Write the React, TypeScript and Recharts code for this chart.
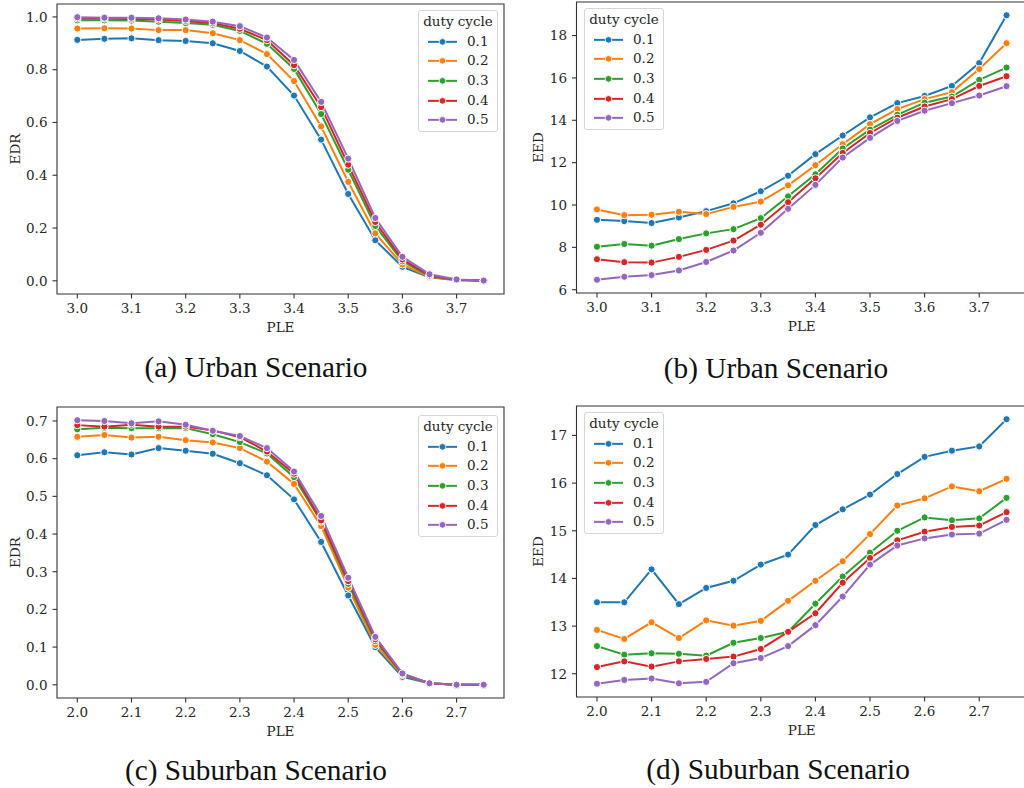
import React from "react";
import { LineChart, Line, XAxis, YAxis, ReferenceArea, Legend } from "recharts";

// PLE sweeps for the two scenarios
const pleUrban = [3.0, 3.05, 3.1, 3.15, 3.2, 3.25, 3.3, 3.35, 3.4, 3.45, 3.5, 3.55, 3.6, 3.65, 3.7, 3.75];
const pleSuburban = [2.0, 2.05, 2.1, 2.15, 2.2, 2.25, 2.3, 2.35, 2.4, 2.45, 2.5, 2.55, 2.6, 2.65, 2.7, 2.75];

const dutyCycles = ["0.1", "0.2", "0.3", "0.4", "0.5"];
const colors = ["#1f77b4", "#ff7f0e", "#2ca02c", "#d62728", "#9467bd"];

// one row per duty cycle (0.1 .. 0.5)
const edrUrban = [
  [0.913, 0.917, 0.919, 0.912, 0.909, 0.9, 0.871, 0.812, 0.702, 0.535, 0.329, 0.154, 0.053, 0.013, 0.002, 0.0],
  [0.956, 0.957, 0.956, 0.95, 0.95, 0.938, 0.912, 0.859, 0.757, 0.585, 0.375, 0.18, 0.062, 0.015, 0.003, 0.0],
  [0.987, 0.987, 0.986, 0.982, 0.977, 0.97, 0.947, 0.898, 0.803, 0.632, 0.421, 0.208, 0.074, 0.018, 0.004, 0.001],
  [0.994, 0.994, 0.992, 0.99, 0.985, 0.976, 0.955, 0.912, 0.817, 0.658, 0.44, 0.223, 0.081, 0.02, 0.004, 0.001],
  [0.999, 0.997, 0.997, 0.995, 0.99, 0.982, 0.965, 0.922, 0.837, 0.678, 0.463, 0.238, 0.091, 0.025, 0.005, 0.001],
];

const eedUrban = [
  [9.3, 9.24, 9.15, 9.41, 9.71, 10.08, 10.65, 11.38, 12.4, 13.28, 14.14, 14.81, 15.15, 15.62, 16.7, 18.96],
  [9.79, 9.52, 9.54, 9.68, 9.57, 9.91, 10.16, 10.93, 11.88, 12.87, 13.82, 14.53, 15.0, 15.33, 16.42, 17.64],
  [8.03, 8.16, 8.08, 8.39, 8.66, 8.86, 9.38, 10.41, 11.45, 12.67, 13.56, 14.26, 14.83, 15.12, 15.91, 16.49],
  [7.44, 7.3, 7.28, 7.55, 7.88, 8.32, 9.07, 10.13, 11.26, 12.46, 13.4, 14.12, 14.65, 15.0, 15.62, 16.08],
  [6.47, 6.61, 6.69, 6.91, 7.31, 7.85, 8.69, 9.82, 10.95, 12.24, 13.17, 13.97, 14.45, 14.81, 15.17, 15.61],
];

const edrSuburban = [
  [0.609, 0.617, 0.611, 0.628, 0.621, 0.613, 0.588, 0.556, 0.492, 0.379, 0.237, 0.1, 0.021, 0.004, 0.0, 0.0],
  [0.658, 0.663, 0.656, 0.658, 0.649, 0.643, 0.628, 0.592, 0.533, 0.421, 0.258, 0.106, 0.026, 0.004, 0.0, 0.0],
  [0.678, 0.682, 0.681, 0.681, 0.681, 0.665, 0.644, 0.614, 0.551, 0.433, 0.268, 0.116, 0.028, 0.004, 0.0, 0.0],
  [0.689, 0.685, 0.69, 0.685, 0.685, 0.675, 0.657, 0.619, 0.56, 0.436, 0.275, 0.121, 0.029, 0.004, 0.0, 0.0],
  [0.702, 0.7, 0.694, 0.699, 0.69, 0.674, 0.66, 0.628, 0.566, 0.448, 0.284, 0.127, 0.03, 0.004, 0.0, 0.0],
];

const eedSuburban = [
  [13.5, 13.5, 14.19, 13.46, 13.8, 13.95, 14.29, 14.5, 15.12, 15.45, 15.76, 16.19, 16.55, 16.68, 16.77, 17.34],
  [12.92, 12.73, 13.08, 12.75, 13.12, 13.01, 13.11, 13.53, 13.95, 14.36, 14.93, 15.53, 15.68, 15.93, 15.83, 16.09],
  [12.58, 12.4, 12.43, 12.42, 12.38, 12.65, 12.75, 12.88, 13.47, 14.04, 14.54, 15.0, 15.28, 15.22, 15.26, 15.69],
  [12.14, 12.26, 12.15, 12.26, 12.31, 12.36, 12.52, 12.88, 13.27, 13.91, 14.43, 14.8, 14.98, 15.08, 15.11, 15.39],
  [11.79, 11.87, 11.9, 11.8, 11.83, 12.22, 12.33, 12.58, 13.02, 13.62, 14.29, 14.69, 14.84, 14.92, 14.94, 15.23],
];

const xTicksUrban = [3.0, 3.1, 3.2, 3.3, 3.4, 3.5, 3.6, 3.7];
const xTicksSuburban = [2.0, 2.1, 2.2, 2.3, 2.4, 2.5, 2.6, 2.7];
const yTicksEdrUrban = [0, 0.2, 0.4, 0.6, 0.8, 1.0];
const yTicksEedUrban = [6, 8, 10, 12, 14, 16, 18];
const yTicksEdrSuburban = [0, 0.1, 0.2, 0.3, 0.4, 0.5, 0.6, 0.7];
const yTicksEedSuburban = [12, 13, 14, 15, 16, 17];

const captions = ["(a) Urban Scenario", "(b) Urban Scenario", "(c) Suburban Scenario", "(d) Suburban Scenario"];

const SERIF = "'DejaVu Serif', serif";
const TEXT = "#262626";
const FRAME = "#333333";

const panels = [
  {
    ple: pleUrban, series: edrUrban, yName: "EDR", xTicks: xTicksUrban, yTicks: yTicksEdrUrban,
    xDomain: [2.9625, 3.7875], yDomain: [-0.05, 1.049], yDigits: 1,
    left: 0, top: 0, width: 512, height: 340, margin: { top: 4, right: 8, bottom: 0, left: 0 },
    yWidth: 57, xHeight: 46, yLabelX: 20, legendLeft: 418, legendTop: 10,
  },
  {
    ple: pleUrban, series: eedUrban, yName: "EED", xTicks: xTicksUrban, yTicks: yTicksEedUrban,
    xDomain: [2.9625, 3.7875], yDomain: [5.845, 19.585], yDigits: 0,
    left: 512, top: 0, width: 520, height: 340, margin: { top: 2, right: 5, bottom: 0, left: 0 },
    yWidth: 64.5, xHeight: 47, yLabelX: 31, legendLeft: 72, legendTop: 8,
  },
  {
    ple: pleSuburban, series: edrSuburban, yName: "EDR", xTicks: xTicksSuburban, yTicks: yTicksEdrSuburban,
    xDomain: [1.9625, 2.7875], yDomain: [-0.0351, 0.7371], yDigits: 1,
    left: 0, top: 400, width: 512, height: 344, margin: { top: 7, right: 8, bottom: 0, left: 0 },
    yWidth: 57, xHeight: 46, yLabelX: 20, legendLeft: 418, legendTop: 15,
  },
  {
    ple: pleSuburban, series: eedSuburban, yName: "EED", xTicks: xTicksSuburban, yTicks: yTicksEedSuburban,
    xDomain: [1.9625, 2.7875], yDomain: [11.5125, 17.6175], yDigits: 0,
    left: 512, top: 400, width: 520, height: 344, margin: { top: 6, right: 5, bottom: 0, left: 0 },
    yWidth: 64.5, xHeight: 47, yLabelX: 31, legendLeft: 72, legendTop: 12,
  },
];

const tickStyle = { fill: TEXT, fontSize: 13.5, fontFamily: SERIF };

function DutyLegend() {
  const row = 19.7;
  return (
    <div
      style={{
        boxSizing: "border-box",
        width: 80,
        height: 122,
        border: "1px solid #d6d6d6",
        borderRadius: 3,
        background: "rgba(255,255,255,0.85)",
        paddingTop: 1,
        fontFamily: SERIF,
        fontSize: 13.5,
        color: TEXT,
      }}
    >
      <div style={{ height: row, lineHeight: `${row}px`, textAlign: "center" }}>duty cycle</div>
      {dutyCycles.map((d, i) => (
        <div key={d} style={{ height: row, display: "flex", alignItems: "center" }}>
          <svg width={48} height={row} style={{ flex: "none" }}>
            <line x1={9} x2={38} y1={row / 2} y2={row / 2} stroke={colors[i]} strokeWidth={2} />
            <circle cx={23.5} cy={row / 2} r={3.3} fill={colors[i]} stroke="#fff" strokeWidth={0.8} />
          </svg>
          <span style={{ lineHeight: `${row}px` }}>{d}</span>
        </div>
      ))}
    </div>
  );
}

function Panel({ cfg }: { cfg: any }) {
  const data = cfg.ple.map((x: number, i: number) => {
    const row: any = { ple: x };
    cfg.series.forEach((s: number[], k: number) => {
      row[`s${k}`] = s[i];
    });
    return row;
  });

  const xLabel = (props: any) => {
    const vb = props.viewBox;
    return (
      <text x={vb.x + vb.width / 2} y={vb.y + 38} textAnchor="middle" fontFamily={SERIF} fontSize={13.5} fill={TEXT}>
        PLE
      </text>
    );
  };
  const yLabel = (props: any) => {
    const vb = props.viewBox;
    const cx = cfg.yLabelX;
    const cy = vb.y + vb.height / 2;
    return (
      <text x={cx} y={cy} transform={`rotate(-90, ${cx}, ${cy})`} textAnchor="middle" fontFamily={SERIF} fontSize={13.5} fill={TEXT}>
        {cfg.yName}
      </text>
    );
  };

  return (
    <div style={{ position: "absolute", left: cfg.left, top: cfg.top }}>
      <LineChart width={cfg.width} height={cfg.height} data={data} margin={cfg.margin}>
        <ReferenceArea
          x1={cfg.xDomain[0]}
          x2={cfg.xDomain[1]}
          y1={cfg.yDomain[0]}
          y2={cfg.yDomain[1]}
          fill="none"
          stroke={FRAME}
          strokeWidth={1.1}
          ifOverflow="visible"
        />
        <XAxis
          type="number"
          dataKey="ple"
          domain={cfg.xDomain}
          ticks={cfg.xTicks}
          interval={0}
          allowDataOverflow
          tickFormatter={(v: number) => v.toFixed(1)}
          height={cfg.xHeight}
          axisLine={false}
          tickLine={{ stroke: FRAME, strokeWidth: 1.1 }}
          tickSize={4.5}
          tickMargin={5}
          tick={tickStyle}
          label={{ content: xLabel }}
        />
        <YAxis
          type="number"
          domain={cfg.yDomain}
          ticks={cfg.yTicks}
          interval={0}
          allowDataOverflow
          tickFormatter={(v: number) => v.toFixed(cfg.yDigits)}
          width={cfg.yWidth}
          axisLine={false}
          tickLine={{ stroke: FRAME, strokeWidth: 1.1 }}
          tickSize={4.5}
          tickMargin={5}
          tick={tickStyle}
          label={{ content: yLabel }}
        />
        {dutyCycles.map((d, k) => (
          <Line
            key={d}
            type="linear"
            dataKey={`s${k}`}
            name={d}
            stroke={colors[k]}
            strokeWidth={2}
            dot={{ r: 3.6, fill: colors[k], stroke: "#fff", strokeWidth: 1 }}
            activeDot={false}
            isAnimationActive={false}
          />
        ))}
        <Legend
          layout="vertical"
          align="center"
          verticalAlign="middle"
          content={() => <DutyLegend />}
          wrapperStyle={{ position: "absolute", left: cfg.legendLeft, top: cfg.legendTop, width: "auto", height: "auto" }}
        />
      </LineChart>
    </div>
  );
}

export default function App() {
  const captionPos = [
    { x: 256, y: 377 },
    { x: 776, y: 378 },
    { x: 256, y: 780 },
    { x: 778, y: 779 },
  ];
  return (
    <div style={{ position: "absolute", left: 0, top: 0, width: 1024, height: 788, overflow: "hidden", background: "#fff" }}>
      {panels.map((p, i) => (
        <Panel key={i} cfg={p} />
      ))}
      <svg width={1024} height={788} style={{ position: "absolute", left: 0, top: 0, pointerEvents: "none" }}>
        {captions.map((c, i) => (
          <text
            key={c + i}
            x={captionPos[i].x}
            y={captionPos[i].y}
            textAnchor="middle"
            fontFamily="'Liberation Serif', 'Times New Roman', serif"
            fontSize={29.3}
            fill="#111"
          >
            {c}
          </text>
        ))}
      </svg>
    </div>
  );
}
